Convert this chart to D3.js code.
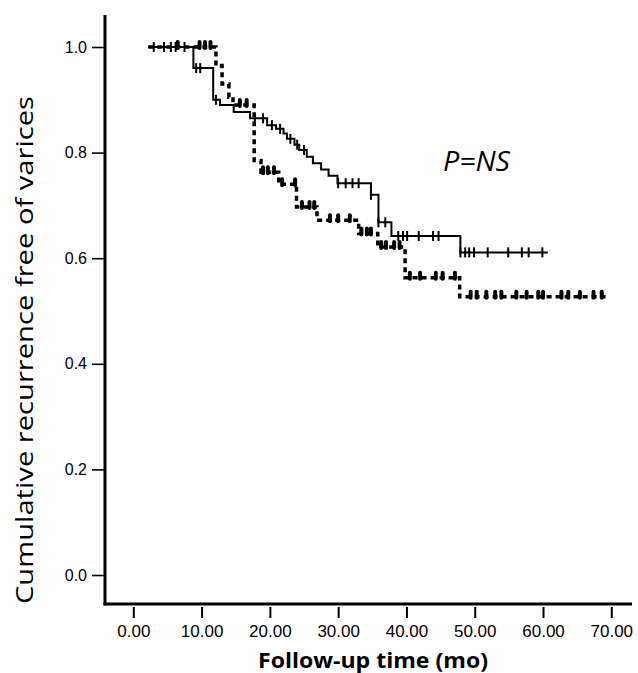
<!DOCTYPE html>
<html>
<head>
<meta charset="utf-8">
<script src="https://cdn.jsdelivr.net/npm/d3@7"></script>
<style>
  html, body { margin: 0; padding: 0; background: #fff; }
  svg { display: block; }
</style>
</head>
<body>
<svg id="chart" width="638" height="673"></svg>
<script>
// ---- data ----
const xTicks = [0, 10, 20, 30, 40, 50, 60, 70];
const xTickLabels = ["0.00", "10.00", "20.00", "30.00", "40.00", "50.00", "60.00", "70.00"];
const yTicks = [0, 0.2, 0.4, 0.6, 0.8, 1.0];
const yTickLabels = ["0.0", "0.2", "0.4", "0.6", "0.8", "1.0"];

// solid group: step times and survival after each step
const solidTime = [2.2, 8.8, 11.7, 12.7, 14.7, 17.1, 19.6, 20.9, 22.0, 22.5, 23.6, 24.3, 25.4, 26.3, 27.5, 28.6, 29.9, 34.8, 35.9, 37.8, 47.9, 60.7];
const solidSurv = [1.0, 0.96, 0.90, 0.89, 0.877, 0.865, 0.852, 0.845, 0.836, 0.826, 0.815, 0.805, 0.792, 0.78, 0.768, 0.756, 0.742, 0.72, 0.668, 0.642, 0.611, 0.611];
const solidCensor = [3.0, 4.5, 5.5, 6.2, 7.5, 9.2, 9.8, 12.1, 17.8, 19.0, 20.3, 21.5, 23.0, 24.0, 25.0, 30.0, 31.1, 32.1, 33.0, 34.8, 35.9, 36.9, 38.8, 39.5, 40.1, 41.8, 43.9, 44.7, 47.9, 48.6, 49.2, 49.9, 51.9, 54.9, 56.9, 57.9, 59.9];

// dashed group
const dashedTime = [2.2, 12.1, 13.0, 14.0, 14.6, 17.7, 18.7, 21.3, 23.9, 26.9, 33.0, 35.8, 39.8, 47.8, 69.3];
const dashedSurv = [1.0, 0.965, 0.93, 0.905, 0.89, 0.785, 0.763, 0.74, 0.697, 0.672, 0.647, 0.621, 0.563, 0.527, 0.527];
const dashedCensor = [6.5, 9.7, 10.5, 11.3, 15.6, 16.6, 19.0, 19.7, 20.6, 21.8, 23.7, 24.7, 25.8, 26.5, 28.8, 30.0, 31.7, 33.4, 34.2, 34.8, 36.3, 37.0, 38.2, 39.0, 40.5, 42.0, 44.3, 45.3, 47.1, 49.4, 50.3, 51.7, 53.0, 53.9, 56.1, 57.6, 59.3, 60.0, 62.7, 63.7, 65.4, 67.4, 68.6];

const annotation = "P=NS";
const xTitle = "Follow-up time (mo)";
const yTitle = "Cumulative recurrence free of varices";

// ---- drawing ----
const svg = d3.select("#chart");
const x = d3.scaleLinear().domain([0, 70]).range([133.3, 611.3]);
const y = d3.scaleLinear().domain([0, 1]).range([575, 47]);

const axisLeftX = 105, axisBottomY = 604;

// frame lines
svg.append("line").attr("x1", axisLeftX).attr("x2", axisLeftX).attr("y1", 15).attr("y2", axisBottomY + 1.5)
  .attr("stroke", "#000").attr("stroke-width", 3);
svg.append("line").attr("x1", axisLeftX - 1.5).attr("x2", 632).attr("y1", axisBottomY).attr("y2", axisBottomY)
  .attr("stroke", "#000").attr("stroke-width", 3);

// x axis
const gx = svg.append("g").attr("transform", `translate(0,${axisBottomY + 3})`)
  .call(d3.axisBottom(x).tickValues(xTicks).tickFormat((d, i) => xTickLabels[i]).tickSize(11).tickPadding(7));
gx.select(".domain").remove();
gx.selectAll(".tick line").attr("stroke", "#000").attr("stroke-width", 2);
gx.selectAll(".tick text").attr("font-family", "Liberation Sans, Arial, sans-serif").attr("font-size", 17).attr("fill", "#000");

// y axis
const gy = svg.append("g").attr("transform", `translate(${axisLeftX},0)`)
  .call(d3.axisLeft(y).tickValues(yTicks).tickFormat((d, i) => yTickLabels[i]).tickSize(13).tickPadding(5));
gy.select(".domain").remove();
gy.selectAll(".tick line").attr("stroke", "#000").attr("stroke-width", 1.6);
gy.selectAll(".tick text").attr("font-family", "Liberation Sans, Arial, sans-serif").attr("font-size", 16).attr("fill", "#000");

function stepValue(times, surv, t) {
  let v = surv[0];
  for (let i = 0; i < times.length; i++) if (times[i] <= t + 1e-9) v = surv[i];
  return v;
}

const line = d3.line().x(d => x(d[0])).y(d => y(d[1])).curve(d3.curveStepAfter);

// dashed curve
const dashedPts = dashedTime.map((t, i) => [t, dashedSurv[i]]);
svg.append("path").attr("d", line(dashedPts)).attr("fill", "none").attr("stroke", "#000")
  .attr("stroke-width", 3.5).attr("stroke-dasharray", "5,4");
svg.append("g").selectAll("line").data(dashedCensor).join("line")
  .attr("x1", d => x(d)).attr("x2", d => x(d))
  .attr("y1", d => y(stepValue(dashedTime, dashedSurv, d)) - 5)
  .attr("y2", d => y(stepValue(dashedTime, dashedSurv, d)) + 1)
  .attr("stroke", "#000").attr("stroke-width", 4).attr("stroke-linecap", "round");

// solid curve
const solidPts = solidTime.map((t, i) => [t, solidSurv[i]]);
svg.append("path").attr("d", line(solidPts)).attr("fill", "none").attr("stroke", "#000").attr("stroke-width", 2);
svg.append("g").selectAll("line").data(solidCensor).join("line")
  .attr("x1", d => x(d)).attr("x2", d => x(d))
  .attr("y1", d => y(stepValue(solidTime, solidSurv, d)) - 5)
  .attr("y2", d => y(stepValue(solidTime, solidSurv, d)) + 5)
  .attr("stroke", "#000").attr("stroke-width", 2);

// annotation
svg.append("text").attr("x", 443).attr("y", 171).text(annotation)
  .attr("textLength", 67).attr("lengthAdjust", "spacingAndGlyphs")
  .attr("font-family", "Open Sans, sans-serif").attr("font-style", "italic").attr("font-size", 27).attr("fill", "#000");

// axis titles
svg.append("text").attr("x", 373).attr("y", 668).attr("text-anchor", "middle").text(xTitle)
  .attr("textLength", 230).attr("lengthAdjust", "spacingAndGlyphs")
  .attr("font-family", "Open Sans, sans-serif").attr("font-weight", "bold").attr("font-size", 22).attr("fill", "#000");
svg.append("text").attr("transform", "translate(33,350) rotate(-90)").attr("text-anchor", "middle").text(yTitle)
  .attr("textLength", 508).attr("lengthAdjust", "spacingAndGlyphs")
  .attr("font-family", "Open Sans, sans-serif").attr("font-size", 23).attr("fill", "#000");
</script>
</body>
</html>
